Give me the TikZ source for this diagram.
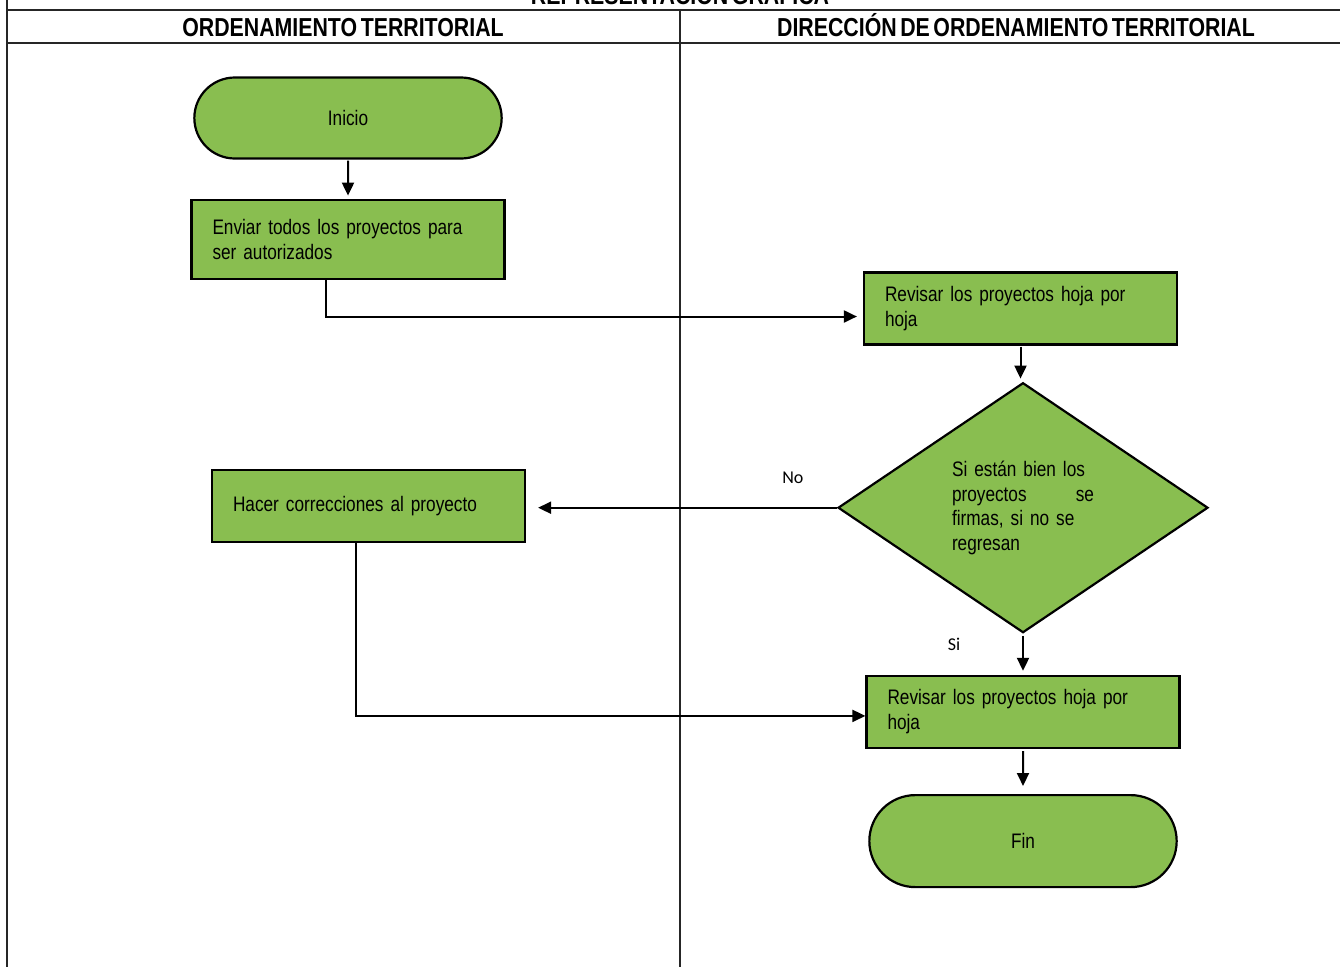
\documentclass[tikz,border=0pt]{standalone}
\usepackage{fontspec}
\setmainfont{Liberation Sans}[FakeStretch=0.82, WordSpace=0.6]
\newfontfamily\lblfont{Carlito}
\usetikzlibrary{arrows.meta,positioning,shapes.geometric,shapes.misc}

\definecolor{flowgreen}{RGB}{137,190,80}

\begin{document}
\begin{tikzpicture}[
  x=1pt, y=1pt,
  node distance=39pt,
  lane/.style={draw=black!85, line width=1.2pt},
  lanehead/.style={font=\fontsize{26}{30}\selectfont\bfseries, inner sep=0pt, anchor=base},
  terminal/.style={draw, line width=2.2pt, rounded rectangle, fill=flowgreen,
    minimum width=314pt, minimum height=81pt, font=\fontsize{21}{25}\selectfont},
  box/.style={draw, line width=2.2pt, fill=flowgreen, align=left,
    text width=271pt, inner xsep=21pt, minimum height=72pt,
    font=\fontsize{21}{25}\selectfont},
  decision/.style={draw, line width=2.2pt, diamond, fill=flowgreen, aspect=1.48,
    minimum width=370pt, minimum height=250pt, align=left, text width=142pt,
    inner sep=0pt, font=\fontsize{21}{24.5}\selectfont},
  lbl/.style={font=\lblfont\fontsize{18}{20}\selectfont, inner sep=0pt},
  arrow/.style={-{Triangle[length=13pt,width=12pt]}, line width=2pt}
]
\clip (0,0) rectangle (1340,-967);

% swimlanes
\node[lanehead] (title) at (680,-4) {REPRESENTACIÓN GRÁFICA};
\draw[lane] (7,0) -- (7,-967);
\draw[lane] (7,-10) -- (1340,-10);
\draw[lane] (7,-43) -- (1340,-43);
\draw[lane] (680,-10) -- (680,-967);
\node[lanehead] (lane1) at (343,-36) {ORDENAMIENTO TERRITORIAL};
\node[lanehead] (lane2) at (1016,-36) {DIRECCIÓN DE ORDENAMIENTO TERRITORIAL};

% left lane
\node[terminal] (inicio) at (348,-118) {Inicio};
\node[box, below=of inicio, minimum height=79pt] (enviar)
  {Enviar todos los proyectos para\\ser autorizados};
\node[box] (corregir) at (368.5,-506) {Hacer correcciones al proyecto};

% right lane
\node[box] (revisar) at (1020.5,-308.5) {Revisar los proyectos hoja por\\hoja};
\node[decision, below=36pt of revisar, xshift=2.5pt] (check)
  {Si están bien los\\proyectos\hfill se\\firmas, si no se\\regresan};
\node[box, below=41pt of check] (revisar2) {Revisar los proyectos hoja por\\hoja};
\node[terminal, below=45pt of revisar2, minimum height=92pt] (fin) {Fin};

\node[lbl] (no) at ([xshift=-44pt,yshift=30pt]check.west) {No};
\node[lbl] (si) at ([xshift=-69pt,yshift=-11pt]check.south) {Si};

% connectors
\draw[arrow, shorten <=1pt, shorten >=3pt] (inicio) -- (enviar);
\draw[arrow, shorten >=6pt] ([xshift=-22pt]enviar.south) |- ([yshift=-8pt]revisar.west);
\draw[arrow, shorten <=1pt, shorten >=3pt] (revisar) -- (revisar |- check.north);
\draw[arrow, shorten >=12pt] (check.west) -- (check.west -| corregir.east);
\draw[arrow, shorten <=2pt, shorten >=4pt] (check.south) -- (revisar2.north);
\draw[arrow] ([xshift=-13pt]corregir.south) |- ([yshift=-4pt]revisar2.west);
\draw[arrow, shorten <=2pt, shorten >=8pt] (revisar2) -- (fin);
\end{tikzpicture}
\end{document}
